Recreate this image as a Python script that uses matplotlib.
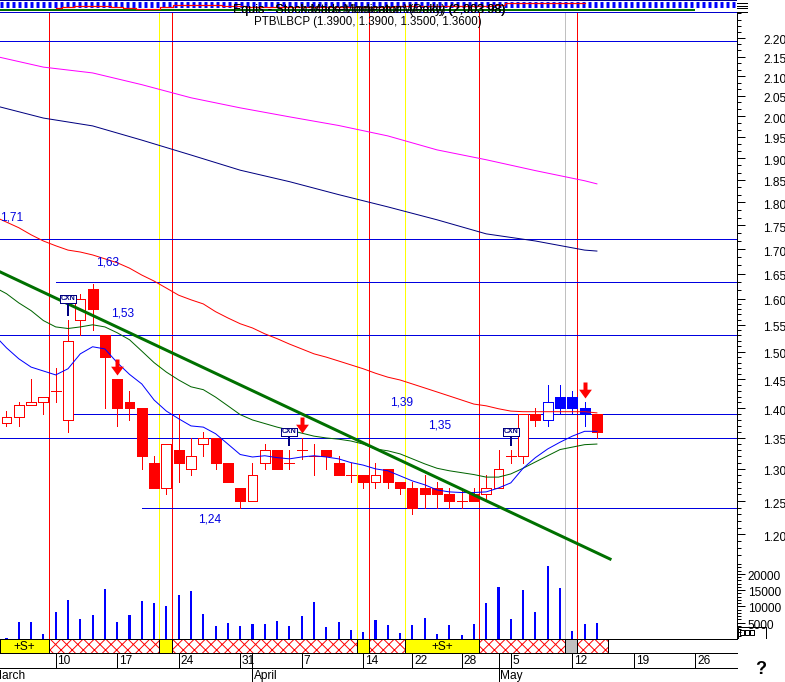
import numpy as np
import matplotlib
matplotlib.use('Agg')
import matplotlib.pyplot as plt
from matplotlib.path import Path
from matplotlib.ticker import NullFormatter
from matplotlib.transforms import ScaledTranslation

plt.rcParams['font.family'] = ['Liberation Sans', 'DejaVu Sans']
plt.rcParams['patch.antialiased'] = False
plt.rcParams['hatch.linewidth'] = 0.7
plt.rcParams['hatch.color'] = '#ff0000'

# daily bars, index 0..48
opens = [1.375, 1.385, 1.405, 1.41, 1.43, 1.38, 1.56, 1.62, 1.53, 1.45,
         1.41, 1.40, 1.31, 1.27, 1.33, 1.30, 1.34, 1.35, 1.31, 1.27,
         1.25, 1.31, 1.33, 1.31, 1.33, 1.32, 1.33, 1.31, 1.29, 1.29,
         1.28, 1.30, 1.28, 1.27, 1.27, 1.27, 1.26, 1.25, 1.26, 1.26,
         1.27, 1.32, 1.32, 1.39, 1.38, 1.42, 1.42, 1.40, 1.39]
closes = [1.385, 1.405, 1.41, 1.42, 1.43, 1.52, 1.60, 1.58, 1.49, 1.40,
          1.40, 1.32, 1.27, 1.34, 1.31, 1.32, 1.35, 1.31, 1.28, 1.25,
          1.29, 1.33, 1.30, 1.31, 1.33, 1.32, 1.32, 1.29, 1.29, 1.28,
          1.29, 1.28, 1.27, 1.24, 1.26, 1.26, 1.25, 1.25, 1.25, 1.27,
          1.30, 1.32, 1.39, 1.38, 1.41, 1.40, 1.40, 1.39, 1.36]
highs = [1.395, 1.41, 1.45, 1.42, 1.47, 1.56, 1.61, 1.63, 1.53, 1.45,
         1.43, 1.40, 1.32, 1.34, 1.39, 1.35, 1.36, 1.35, 1.31, 1.27,
         1.31, 1.34, 1.33, 1.33, 1.35, 1.34, 1.33, 1.32, 1.31, 1.29,
         1.31, 1.30, 1.28, 1.28, 1.29, 1.28, 1.27, 1.27, 1.27, 1.29,
         1.33, 1.33, 1.39, 1.40, 1.44, 1.44, 1.43, 1.41, 1.39]
lows = [1.37, 1.37, 1.405, 1.39, 1.41, 1.36, 1.53, 1.54, 1.40, 1.37,
        1.38, 1.30, 1.27, 1.26, 1.28, 1.29, 1.32, 1.30, 1.28, 1.24,
        1.25, 1.30, 1.30, 1.30, 1.315, 1.29, 1.30, 1.29, 1.28, 1.27,
        1.27, 1.27, 1.26, 1.23, 1.24, 1.24, 1.24, 1.24, 1.25, 1.25,
        1.27, 1.31, 1.31, 1.37, 1.37, 1.39, 1.39, 1.37, 1.35]
blue_bars = [44, 45, 46, 47]
volume = [400, 5100, 5200, 1600, 8300, 12000, 6200, 7500, 15400, 5100,
          7300, 11800, 10900, 10000, 13400, 14800, 7800, 3900, 4800, 4100,
          4500, 4500, 5500, 4000, 7000, 11200, 3700, 5100, 2800, 2100,
          5700, 4200, 1900, 4200, 6400, 1500, 4200, 1200, 4500, 10900,
          16100, 6200, 15100, 8400, 22300, 15700, 2500, 4500, 4800]

# moving averages, index -1..48
ma_x = list(range(-1, 49))
ma_blue = [1.531, 1.507, 1.487, 1.472, 1.465, 1.458, 1.469, 1.496, 1.509, 1.505,
           1.480, 1.459, 1.442, 1.414, 1.395, 1.382, 1.370, 1.368, 1.357, 1.340,
           1.323, 1.319, 1.321, 1.318, 1.316, 1.319, 1.321, 1.319, 1.316, 1.310,
           1.306, 1.300, 1.297, 1.289, 1.281, 1.275, 1.267, 1.264, 1.263, 1.263,
           1.264, 1.270, 1.278, 1.301, 1.318, 1.332, 1.343, 1.353, 1.361, 1.361]
ma_green = [1.623, 1.610, 1.592, 1.577, 1.558, 1.546, 1.543, 1.546, 1.550, 1.546,
            1.535, 1.522, 1.501, 1.480, 1.463, 1.449, 1.437, 1.432, 1.419, 1.404,
            1.389, 1.380, 1.374, 1.368, 1.363, 1.358, 1.353, 1.350, 1.348, 1.345,
            1.340, 1.332, 1.329, 1.324, 1.316, 1.308, 1.301, 1.297, 1.294, 1.291,
            1.287, 1.287, 1.292, 1.301, 1.311, 1.321, 1.331, 1.335, 1.339, 1.340]
ma_red = [1.769, 1.757, 1.745, 1.730, 1.717, 1.707, 1.698, 1.694, 1.688, 1.680,
          1.672, 1.661, 1.647, 1.635, 1.621, 1.607, 1.598, 1.590, 1.575, 1.563,
          1.552, 1.544, 1.533, 1.524, 1.514, 1.505, 1.496, 1.490, 1.483, 1.476,
          1.469, 1.461, 1.454, 1.449, 1.442, 1.435, 1.428, 1.421, 1.414, 1.407,
          1.404, 1.399, 1.395, 1.394, 1.394, 1.394, 1.394, 1.394, 1.394, 1.392]
long_x = [-1, 3, 7, 11, 15, 19, 23, 27, 31, 35, 39, 43, 47, 48]
ma_magenta = [2.152, 2.123, 2.108, 2.078, 2.045, 2.02, 1.998, 1.977, 1.952, 1.919,
              1.896, 1.871, 1.848, 1.841]
ma_navy = [2.026, 1.995, 1.976, 1.942, 1.907, 1.872, 1.846, 1.817, 1.790, 1.762,
           1.732, 1.717, 1.698, 1.696]
trend_x = [-1, 49.07]
trend_y = [1.659, 1.1645]

# horizontal levels: price, first bar index
level_prices = [2.192, 1.7215, 1.633, 1.53, 1.39, 1.35, 1.24]
level_starts = [-1, -1, 4, -1, 5, -1, 11]
note_text = ['1,71', '1,63', '1,53', '1,39', '1,35', '1,24']
note_x = [0.45, 8.2, 9.4, 32.1, 35.2, 16.5]
note_y = [1.766, 1.672, 1.572, 1.41, 1.37, 1.222]

arrow_x = [9, 24, 47]
arrow_y = [1.472, 1.372, 1.431]
cxn_x = [5, 23, 41]
cxn_top = [1.60, 1.36, 1.36]
cxn_stem = [(1.59, 1.569), (1.355, 1.339), (1.355, 1.339)]

# separators and bands along the time axis
red_days = [3.456, 13.456, 29.47, 38.42, 46.38]
yellow_days = [12.40, 28.50, 32.40]
gray_days = [45.41]
band_edges = [-0.53, 3.456, 12.40, 13.456, 28.50, 29.47, 32.40, 38.42, 45.41, 46.38, 48.9]
band_kinds = ['S', 'x', 'y', 'x', 'y', 'x', 'S', 'x', 'g', 'x']

day_pos = [4, 9, 14, 19, 24, 29, 33, 37, 41, 46, 51, 56]
day_labels = ['10', '17', '24', '31', '7', '14', '22', '28', '5', '12', '19', '26']
month_pos = [-1.35, 20, 40]
month_labels = ['March', 'April', 'May']

equity_x = list(range(4, 48))
equity = [8.3, 7, 5.5, 5.5, 6, 6.5, 7.7, 8.7, 8.7, 7.3, 4.7, 4.7, 4.7, 5, 5.7, 5.7,
          6.5, 6.7, 6.7, 6.7, 6.7, 6.7, 6.5, 6.5, 6.5, 6.5, 6.5, 6.5, 6.2, 6.2, 6,
          6, 6, 6, 6, 6, 5, 2.7, 2.7, 2.7, 2.7, 2.5, 2.5, 2.5]

price_ticks = [round(1.20 + 0.05 * k, 2) for k in range(21)]
vol_ticks = [5000, 10000, 15000, 20000]

W, H = 785, 682
PX = 0.72  # points per pixel at dpi 100
XLIM = (-0.528, 59.39)


def rect(left, top, right, bottom):
    # axes rectangle from pixel edges of the picture
    return [left / W, 1 - bottom / H, (right - left) / W, (bottom - top) / H]


fig = plt.figure(figsize=(W / 100, H / 100), dpi=100, facecolor='white')

# volume sits under the price panel
ax_vol = fig.add_axes(rect(0, 13, 737, 639), zorder=1)
ax = fig.add_axes(rect(0, 13, 737, 639), zorder=2)
ax_band = fig.add_axes(rect(0, 639, 737, 653), zorder=3)
ax_day = fig.add_axes(rect(0, 653, 737, 668), zorder=3)
ax_month = fig.add_axes(rect(0, 668, 737, 682), zorder=3)
ax_top = fig.add_axes(rect(0, 0, 737, 13), zorder=3)
ax_px = fig.add_axes([0, 0, 1, 1], zorder=4)
ax_px.set_xlim(0, W)
ax_px.set_ylim(H, 0)
ax_px.axis('off')

x = np.arange(len(opens))

# volume
ax_vol.bar(x, volume, width=0.17, color='#0000ff', lw=0)
ax_vol.set_xlim(*XLIM)
ax_vol.set_ylim(0, 192000)
ax_vol.yaxis.tick_right()
ax_vol.set_yticks(vol_ticks)
ax_vol.set_yticks(np.arange(1000, 24000, 1000), minor=True)
ax_vol.set_yticklabels([str(v) for v in vol_ticks], fontsize=8.6)
ax_vol.tick_params(axis='y', which='major', length=8 * PX, width=PX, pad=2)
ax_vol.tick_params(axis='y', which='minor', length=4 * PX, width=PX)
ax_vol.set_xticks([])
for s in ['top', 'left', 'bottom']:
    ax_vol.spines[s].set_visible(False)
ax_vol.spines['right'].set_linewidth(PX)
shift = ScaledTranslation(0, -1.5 / 100, fig.dpi_scale_trans)
for lab in ax_vol.get_yticklabels():
    lab.set_transform(lab.get_transform() + shift)

# price panel
ax.patch.set_visible(False)
ax.set_yscale('log')
ax.set_xlim(*XLIM)
ax.set_ylim(1.0562, 2.268)
for d in red_days:
    ax.axvline(d, color='#ff0000', lw=PX, zorder=1)
for d in yellow_days:
    ax.axvline(d, color='#ffff00', lw=PX, zorder=1)
for d in gray_days:
    ax.axvline(d, color='#c0c0c0', lw=PX, zorder=1)

for p, st in zip(level_prices, level_starts):
    ax.plot([st, XLIM[1]], [p, p], color='#0000e0', lw=PX, zorder=2)

for i in x:
    c = '#0000ff' if i in blue_bars else '#ff0000'
    ax.plot([i, i], [lows[i], highs[i]], color=c, lw=PX, zorder=3)
    o, cl = opens[i], closes[i]
    if o == cl:
        ax.plot([i - 0.41, i + 0.41], [o, o], color=c, lw=PX, zorder=4)
    elif cl > o:
        ax.bar(i, cl - o, bottom=o, width=0.8, facecolor='white', edgecolor=c, lw=PX, zorder=4)
    else:
        ax.bar(i, o - cl, bottom=cl, width=0.8, facecolor=c, edgecolor=c, lw=PX, zorder=4)

ax.plot(long_x, ma_magenta, color='#ff00ff', lw=PX, zorder=5)
ax.plot(long_x, ma_navy, color='#000080', lw=PX, zorder=5)
ax.plot(ma_x, ma_red, color='#ff0000', lw=PX, zorder=5)
ax.plot(ma_x, ma_green, color='#006400', lw=PX, zorder=5)
ax.plot(ma_x, ma_blue, color='#0000ff', lw=PX, zorder=5)
ax.plot(trend_x, trend_y, color='#007000', lw=3 * PX, zorder=6)

for s, tx, ty in zip(note_text, note_x, note_y):
    ax.text(tx, ty, s, color='#0000e0', fontsize=8.6, ha='center', va='center', zorder=7)

arrow = Path([(-0.25, 1), (0.25, 1), (0.25, 0.1), (0.8, 0.1), (0, -1), (-0.8, 0.1), (-0.25, 0.1), (-0.25, 1)], closed=True)
ax.plot(arrow_x, arrow_y, ls='', marker=arrow, ms=16 * PX, mfc='#ff0000', mec='#ff0000', mew=0, zorder=8)

for cx, ct, (s0, s1) in zip(cxn_x, cxn_top, cxn_stem):
    ax.plot([cx, cx], [s0, s1], color='#000080', lw=2 * PX, zorder=8)
    ax.text(cx, ct, 'CXN', fontsize=5, fontweight='bold', color='#000080', ha='center', va='center', zorder=9,
            bbox=dict(boxstyle='square,pad=0.1', fc='white', ec='#000080', lw=PX))

ax.yaxis.tick_right()
ax.set_yticks(price_ticks)
ax.set_yticks(list(np.arange(1.17, 1.6, 0.01)) + list(np.arange(1.6, 2.27, 0.05 / 3)), minor=True)
ax.set_yticklabels(['%.2f' % t for t in price_ticks], fontsize=8.6)
ax.yaxis.set_minor_formatter(NullFormatter())
ax.tick_params(axis='y', which='major', length=8 * PX, width=PX, pad=13)
ax.tick_params(axis='y', which='minor', length=4 * PX, width=PX)
ax.set_xticks([])
for s in ['top', 'left', 'bottom']:
    ax.spines[s].set_visible(False)
ax.spines['right'].set_linewidth(PX)
shift = ScaledTranslation(0, -2 / 100, fig.dpi_scale_trans)
for lab in ax.get_yticklabels():
    lab.set_transform(lab.get_transform() + shift)

# signal band
ax_band.set_xlim(*XLIM)
ax_band.set_ylim(0, 1)
ax_band.axis('off')
ax_band.plot(XLIM, [1, 1], color='black', lw=PX, clip_on=False)
ax_band.plot(XLIM, [0, 0], color='black', lw=PX, clip_on=False)
for l, r, k in zip(band_edges[:-1], band_edges[1:], band_kinds):
    if k == 'x':
        ax_band.bar(l, 1, r - l, align='edge', facecolor='white', edgecolor='#ff0000', hatch='xxx', lw=0)
    else:
        ax_band.bar(l, 1, r - l, align='edge', facecolor='#c0c0c0' if k == 'g' else '#ffff00', lw=0)
    ax_band.bar(l, 1, r - l, align='edge', fill=False, edgecolor='black', lw=PX, clip_on=False)
    if k == 'S':
        ax_band.text((l + r) / 2, 0.45, '+S+', fontsize=8.6, ha='center', va='center')

# dates
ax_day.set_xlim(*XLIM)
ax_day.set_ylim(0, 1)
ax_day.axis('off')
ax_day.plot(XLIM, [0, 0], color='black', lw=PX, clip_on=False)
for p, s in zip(day_pos, day_labels):
    ax_day.plot([p, p], [0, 1], color='black', lw=PX)
    ax_day.text(p + 0.15, 0.48, s, fontsize=8.6, ha='left', va='center')
for p in month_pos[1:]:
    ax_day.plot([p, p], [0, 1], color='black', lw=PX)

ax_month.set_xlim(*XLIM)
ax_month.set_ylim(0, 1)
ax_month.axis('off')
for p, s in zip(month_pos, month_labels):
    if p > 0:
        ax_month.plot([p, p], [0, 1], color='black', lw=PX)
    ax_month.text(p + 0.15, 0.45, s, fontsize=8.6, ha='left', va='center', clip_on=True)

# top strip
ax_top.set_xlim(*XLIM)
ax_top.set_ylim(13, 0)
ax_top.axis('off')
ax_top.plot(XLIM, [0.4, 0.4], color='#000080', lw=PX)
for yy, lw in [(2.5, 3), (6, 3)]:
    ax_top.plot(XLIM, [yy, yy], color='#0000ff', lw=lw * PX, ls=(0, (1, 1)), dash_capstyle='butt')
ax_top.fill_between([XLIM[0], 56.0], 8.7, 11, color='#007000', lw=0)
ax_top.plot(XLIM, [11.5, 11.5], color='#0000ff', lw=PX)
ax_top.plot(XLIM, [12.5, 12.5], color='black', lw=PX * 1.4)
ax_top.step(equity_x, equity, where='mid', color='#ff0000', lw=PX * 1.2)

# header texts and odd bits in picture pixels
ax_px.text(368, 22, 'PTB\\LBCP (1.3900, 1.3900, 1.3500, 1.3600)', fontsize=8.3, ha='center', va='center')
ax_px.text(369, 10, 'Equis - Stock Market Indicator Weekly (2,003.98)', fontsize=9, ha='center', va='center')
ax_px.text(369, 10, 'Equis - Stochastics Momentum (Daily) (2,003.98)', fontsize=9, ha='center', va='center')
ax_px.text(761, 670, '?', fontsize=13, fontweight='bold', ha='center', va='center')
ax_px.plot([738, 738, 766, 766], [638, 627, 627, 638], color='black', lw=PX)
for bx in [740, 745, 750]:
    ax_px.plot([bx, bx + 4, bx + 4, bx, bx], [630, 630, 635, 635, 630], color='black', lw=PX)
for ty in [3, 6, 8]:
    ax_px.plot([737, 747], [ty, ty], color='black', lw=PX)
ax_px.plot([737, 747], [12.3, 12.3], color='black', lw=PX)

fig.savefig('out.png', dpi=100)
